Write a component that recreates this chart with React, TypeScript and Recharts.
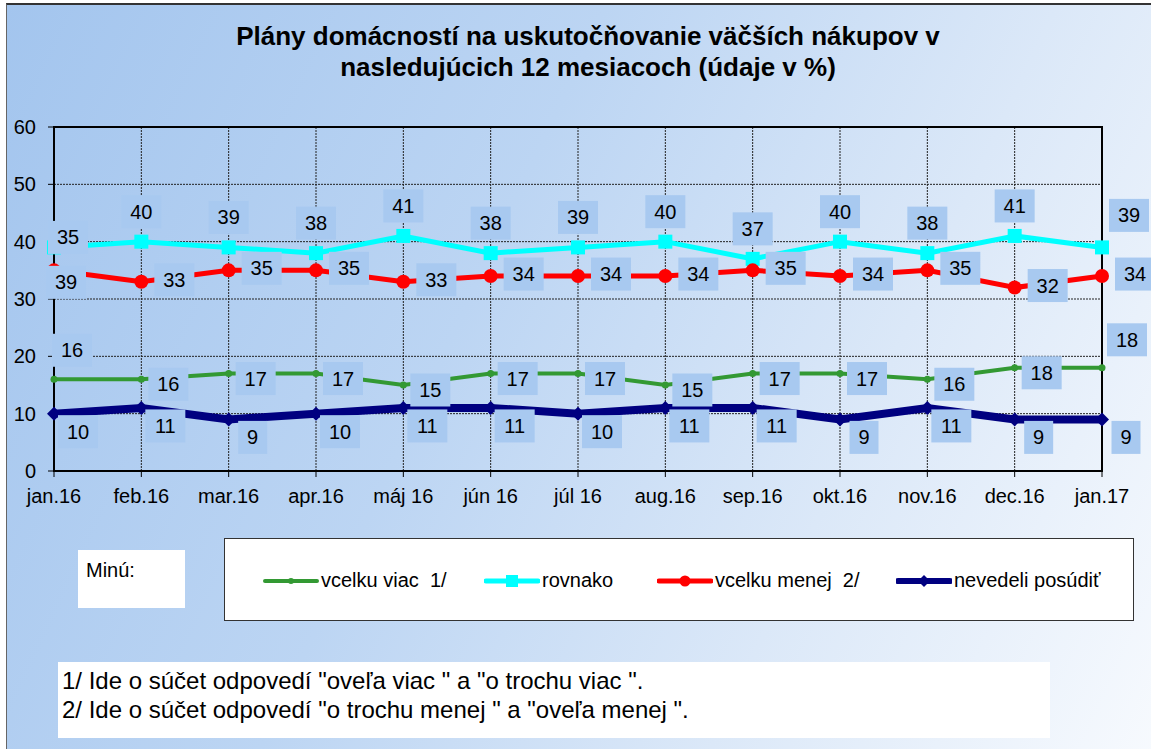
import React from 'react'
import { LineChart, Line, XAxis, YAxis, CartesianGrid, LabelList, ReferenceArea } from 'recharts'

const months = ['jan.16', 'feb.16', 'mar.16', 'apr.16', 'máj 16', 'jún 16', 'júl 16', 'aug.16', 'sep.16', 'okt.16', 'nov.16', 'dec.16', 'jan.17']

const vcelkuViac = [16, 16, 17, 17, 15, 17, 17, 15, 17, 17, 16, 18, 18]
const rovnako = [39, 40, 39, 38, 41, 38, 39, 40, 37, 40, 38, 41, 39]
const vcelkuMenej = [35, 33, 35, 35, 33, 34, 34, 34, 35, 34, 35, 32, 34]
const nevedeli = [10, 11, 9, 10, 11, 11, 10, 11, 11, 9, 11, 9, 9]

// data labels as printed in the source (first month of the two middle series is swapped there)
const viacLabels = [16, 16, 17, 17, 15, 17, 17, 15, 17, 17, 16, 18, 18]
const rovnakoLabels = [35, 40, 39, 38, 41, 38, 39, 40, 37, 40, 38, 41, 39]
const menejLabels = [39, 33, 35, 35, 33, 34, 34, 34, 35, 34, 35, 32, 34]
const nevedeliLabels = [10, 11, 9, 10, 11, 11, 10, 11, 11, 9, 11, 9, 9]

const yTicks = [0, 10, 20, 30, 40, 50, 60]

const data = months.map((m, i) => ({
  month: m,
  viac: vcelkuViac[i],
  rovnako: rovnako[i],
  menej: vcelkuMenej[i],
  nevedeli: nevedeli[i],
}))

const FONT = 'Arial, "Liberation Sans", sans-serif'
const BOX = '#a8c9f0'

const makeLabel = (texts: number[], dx: number, dy: number, special: Record<number, [number, number]> = {}) => (props: any) => {
  const { x, y, index } = props
  if (x == null || y == null) return null
  const [ox, oy] = special[index] ?? [dx, dy]
  const t = String(texts[index])
  const w = t.length * 11 + 18
  const h = 33
  const cx = x + ox
  const cy = y + oy
  return (
    <g key={`lbl-${index}`}>
      <rect x={cx - w / 2} y={cy - h / 2} width={w} height={h} fill={BOX} />
      <text x={cx} y={cy} textAnchor="middle" dominantBaseline="central" fontSize={20} fontFamily={FONT} fill="#000">
        {t}
      </text>
    </g>
  )
}

const squareDot = (size: number, color: string) => (p: any) => (
  <rect key={`sq-${p.index}`} x={p.cx - size / 2} y={p.cy - size / 2} width={size} height={size} fill={color} />
)
const circleDot = (r: number, color: string) => (p: any) => (
  <circle key={`ci-${p.index}`} cx={p.cx} cy={p.cy} r={r} fill={color} />
)
const diamondDot = (s: number, color: string) => (p: any) => (
  <polygon
    key={`di-${p.index}`}
    points={`${p.cx},${p.cy - s} ${p.cx + s},${p.cy} ${p.cx},${p.cy + s} ${p.cx - s},${p.cy}`}
    fill={color}
  />
)

const LegendIcon = ({ color, width, marker }: { color: string; width: number; marker: 'dot' | 'square' | 'circle' | 'diamond' }) => (
  <svg width={56} height={16} style={{ display: 'block' }}>
    <line x1={2} y1={8} x2={54} y2={8} stroke={color} strokeWidth={width} strokeLinecap="round" />
    {marker === 'dot' && <circle cx={28} cy={8} r={3} fill={color} />}
    {marker === 'square' && <rect x={22} y={2} width={12} height={12} fill={color} />}
    {marker === 'circle' && <circle cx={28} cy={8} r={5.5} fill={color} />}
    {marker === 'diamond' && <polygon points="28,2 34,8 28,14 22,8" fill={color} />}
  </svg>
)

const legendItems = [
  { label: 'vcelku viac  1/', color: '#339933', width: 4, marker: 'dot' as const, x: 263 },
  { label: 'rovnako', color: '#00ffff', width: 5, marker: 'square' as const, x: 484 },
  { label: 'vcelku menej  2/', color: '#ff0000', width: 5, marker: 'circle' as const, x: 657 },
  { label: 'nevedeli posúdiť', color: '#000080', width: 6, marker: 'diamond' as const, x: 896 },
]

export default function App() {
  return (
    <div style={{ position: 'absolute', left: 0, top: 0, width: 1151, height: 749, background: '#fff', fontFamily: FONT, overflow: 'hidden' }}>
      <div
        style={{
          position: 'absolute',
          left: 6,
          top: 3,
          width: 1151,
          height: 749,
          borderLeft: '1.5px solid #666',
          borderTop: '2px solid #333',
          background: 'linear-gradient(115deg, #a3c5ee 0%, #bcd5f3 40%, #dbe8f8 70%, #f7fafe 100%)',
        }}
      />
      <div
        style={{
          position: 'absolute',
          left: 0,
          width: 1176,
          top: 21,
          textAlign: 'center',
          fontWeight: 'bold',
          fontSize: 26,
          lineHeight: '31px',
          color: '#000',
        }}
      >
        Plány domácností na uskutočňovanie väčších nákupov v<br />
        nasledujúcich 12 mesiacoch (údaje v %)
      </div>

      <div style={{ position: 'absolute', left: 0, top: 0 }}>
        <LineChart width={1151} height={749} data={data} margin={{ top: 127, right: 49, left: 14, bottom: 248 }}>
          <CartesianGrid stroke="#222" strokeDasharray="2 1" strokeWidth={1} />
          <ReferenceArea x1="jan.16" x2="jan.17" y1={0} y2={60} fill="none" stroke="#000" strokeWidth={2} />
          <XAxis
            dataKey="month"
            height={30}
            interval={0}
            tick={{ fill: '#000', fontSize: 20, fontFamily: FONT }}
            tickSize={6}
            tickMargin={12}
            axisLine={{ stroke: '#000', strokeWidth: 2 }}
            tickLine={{ stroke: '#000' }}
          />
          <YAxis
            width={40}
            domain={[0, 60]}
            ticks={yTicks}
            interval={0}
            tick={{ fill: '#000', fontSize: 20, fontFamily: FONT }}
            tickSize={6}
            tickMargin={12}
            axisLine={{ stroke: '#000', strokeWidth: 2 }}
            tickLine={{ stroke: '#000' }}
          />
          <Line dataKey="viac" stroke="#339933" strokeWidth={4} dot={circleDot(3.5, '#339933')} activeDot={false} isAnimationActive={false} />
          <Line dataKey="rovnako" stroke="#00ffff" strokeWidth={5} dot={squareDot(14, '#00ffff')} activeDot={false} isAnimationActive={false} />
          <Line dataKey="menej" stroke="#ff0000" strokeWidth={5} dot={circleDot(7, '#ff0000')} activeDot={false} isAnimationActive={false} />
          <Line dataKey="nevedeli" stroke="#000080" strokeWidth={8} dot={diamondDot(7, '#000080')} activeDot={false} isAnimationActive={false} />

          <Line dataKey="viac" stroke="none" dot={false} activeDot={false} isAnimationActive={false} legendType="none">
            <LabelList content={makeLabel(viacLabels, 27, 5, { 0: [18, -29], 12: [25, -28] })} />
          </Line>
          <Line dataKey="rovnako" stroke="none" dot={false} activeDot={false} isAnimationActive={false} legendType="none">
            <LabelList content={makeLabel(rovnakoLabels, 0, -30, { 0: [14, -10], 12: [27, -32] })} />
          </Line>
          <Line dataKey="menej" stroke="none" dot={false} activeDot={false} isAnimationActive={false} legendType="none">
            <LabelList content={makeLabel(menejLabels, 33, -2, { 0: [12, 12] })} />
          </Line>
          <Line dataKey="nevedeli" stroke="none" dot={false} activeDot={false} isAnimationActive={false} legendType="none">
            <LabelList content={makeLabel(nevedeliLabels, 24, 18)} />
          </Line>
        </LineChart>
      </div>

      <div style={{ position: 'absolute', left: 78, top: 550, width: 107, height: 58, background: '#fff' }}>
        <div style={{ position: 'absolute', left: 8, top: 9, fontSize: 20 }}>Minú:</div>
      </div>

      <div style={{ position: 'absolute', left: 224, top: 538, width: 908, height: 81, background: '#fff', border: '1px solid #333' }}>
        {legendItems.map((it) => (
          <div key={it.label} style={{ position: 'absolute', left: it.x - 225, top: 30, display: 'flex', alignItems: 'center', whiteSpace: 'pre' }}>
            <LegendIcon color={it.color} width={it.width} marker={it.marker} />
            <span style={{ fontSize: 20, marginLeft: 2 }}>{it.label}</span>
          </div>
        ))}
      </div>

      <div style={{ position: 'absolute', left: 58, top: 662, width: 992, height: 76, background: '#fff' }}>
        <div style={{ position: 'absolute', left: 4, top: 4, fontSize: 24, lineHeight: '29px', whiteSpace: 'pre' }}>
          {'1/ Ide o súčet odpovedí "oveľa viac " a "o trochu viac ".'}
          <br />
          {'2/ Ide o súčet odpovedí "o trochu menej " a "oveľa menej ".'}
        </div>
      </div>
    </div>
  )
}
